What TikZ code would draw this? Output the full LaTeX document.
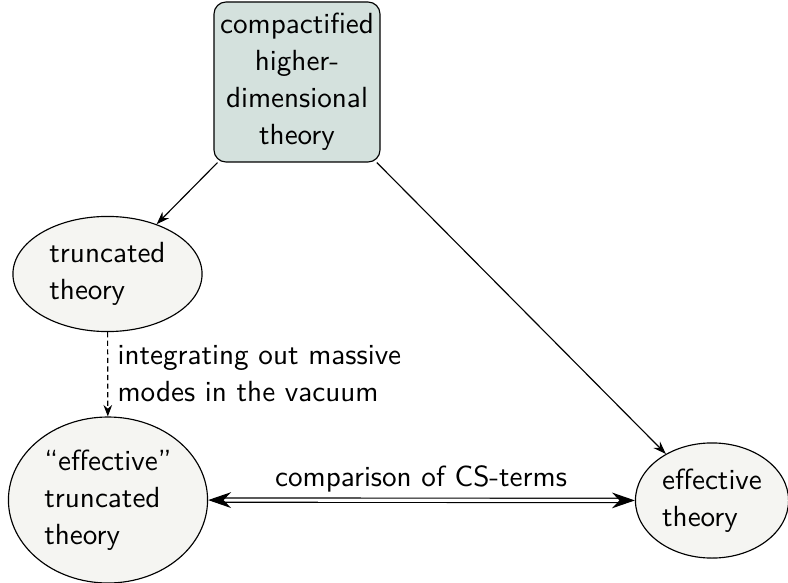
\documentclass[tikz,border=0pt]{standalone}
\usetikzlibrary{arrows.meta,shapes.geometric}
\definecolor{boxfill}{RGB}{212,225,221}
\definecolor{ellfill}{RGB}{245,245,242}
\begin{document}
\begin{tikzpicture}[x=0.35pt,y=-0.35pt,
  font=\sffamily\fontsize{10.2}{12.9}\selectfont,
  topbox/.style={draw,rounded corners=4.2pt,fill=boxfill,minimum width=58.1pt,minimum height=56pt,inner sep=0pt,align=center},
  ell/.style={draw,ellipse,fill=ellfill,inner sep=0pt,align=left},
  arr/.style={-{Stealth[length=4.5pt,width=3.2pt]},thin},
  dasharr/.style={-{Stealth[length=4pt,width=3pt]},thin,dash pattern=on 1.8pt off 1.2pt},
  dblarr/.style={{Stealth[length=8pt,width=5.5pt]}-{Stealth[length=8pt,width=5.5pt]},double,double distance=1.1pt,thin},
  lbl/.style={inner sep=0pt,align=left}]
\useasboundingbox (0,0) rectangle (788,582);
\node[topbox] (top) at (297,82) {compactified\\higher-\\dimensional\\theory};
\node[ell,minimum width=66.2pt,minimum height=40.3pt] (trunc) at (107.5,274) {truncated\\theory};
\node[ell,minimum width=69.7pt,minimum height=58.1pt] (efftrunc) at (108,500) {``effective''\\truncated\\theory};
\node[ell,minimum width=53.6pt,minimum height=40.3pt,align=left] (eff) at (712,500.5) {effective\\theory};
\draw[arr] (top) -- (trunc);
\draw[arr] (top) -- (eff);
\draw[dasharr] (trunc) -- (efftrunc);
\node[lbl,anchor=west] (intlbl) at (117,374) {integrating out massive\\modes in the vacuum};
\draw[dblarr] (efftrunc) -- (eff);
\node[lbl] (cslbl) at (421,479) {comparison of CS-terms};
\end{tikzpicture}
\end{document}
